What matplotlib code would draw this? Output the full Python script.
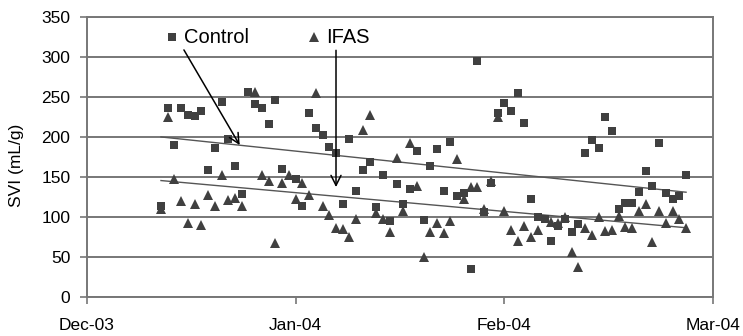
import numpy as np
import matplotlib.pyplot as plt

plt.rcParams['font.family'] = ['Liberation Sans', 'DejaVu Sans']

# days counted from 1 Dec 2003
control_day = [11, 12, 13, 14, 15, 16, 17, 18, 19, 20, 21, 22, 23, 24, 25, 26, 27, 28, 29,
               31, 32, 33, 34, 35, 36, 37, 38, 39, 40, 41, 42, 43, 44, 45, 46, 47, 48, 49, 50,
               51, 52, 53, 54, 55, 56, 57, 58, 59, 60, 61, 62, 63, 64, 65, 66, 67, 68, 69, 70,
               71, 72, 73, 74, 75, 76, 77, 78, 79, 80, 81, 82, 83, 84, 85, 86, 87, 88, 89]
control_svi = [114, 236, 190, 236, 228, 226, 233, 159, 186, 244, 197, 164, 129, 256, 241, 236, 216, 247, 160,
               148, 114, 230, 211, 202, 188, 180, 116, 198, 132, 159, 169, 112, 152, 95, 141, 116, 135, 182, 96,
               164, 185, 132, 194, 126, 130, 35, 295, 106, 142, 230, 243, 233, 255, 218, 122, 100, 97, 70, 89,
               97, 81, 91, 180, 196, 186, 225, 207, 110, 118, 118, 131, 158, 139, 193, 130, 123, 126, 152]

ifas_day = [11, 12, 13, 14, 15, 16, 17, 18, 19, 20, 21, 22, 23, 25, 26, 27, 28, 29, 30,
            31, 32, 33, 34, 35, 36, 37, 38, 39, 40, 41, 42, 43, 44, 45, 46, 47, 48, 49, 50,
            51, 52, 53, 54, 55, 56, 57, 58, 59, 60, 61, 62, 63, 64, 65, 66, 67, 69, 70,
            71, 72, 73, 74, 75, 76, 77, 78, 79, 80, 81, 82, 83, 84, 85, 86, 87, 88, 89]
ifas_svi = [110, 225, 148, 120, 92, 116, 90, 128, 114, 152, 121, 124, 114, 256, 153, 145, 67, 143, 152,
            122, 142, 128, 255, 114, 102, 86, 85, 75, 98, 209, 228, 105, 97, 81, 174, 108, 192, 139, 50,
            81, 92, 80, 95, 173, 123, 138, 138, 110, 145, 225, 108, 84, 70, 89, 75, 84, 94, 93,
            100, 56, 37, 86, 78, 100, 82, 84, 101, 88, 86, 107, 116, 69, 107, 93, 107, 97, 86]

tick_days = [0, 31, 62, 93]
tick_labels = ['Dec-03', 'Jan-04', 'Feb-04', 'Mar-04']

marker_col = '#404040'
grid_col = '#777777'

fig, ax = plt.subplots(figsize=(7.43, 3.36), dpi=100)
fig.subplots_adjust(left=0.117, right=0.9596, bottom=0.116, top=0.949)

ax.plot(control_day, control_svi, 's', color=marker_col, ms=5.4, mew=0, zorder=3)
ax.plot(ifas_day, ifas_svi, '^', color=marker_col, ms=7.2, mew=0, zorder=3)

# linear trend lines
for d, v in [(control_day, control_svi), (ifas_day, ifas_svi)]:
    k, b = np.polyfit(d, v, 1)
    xs = np.array([min(d), max(d)])
    ax.plot(xs, k * xs + b, color='#555555', lw=1.0, zorder=2)

ax.set_xlim(0, 93)
ax.set_ylim(0, 350)
ax.set_xticks(tick_days)
ax.set_xticklabels(tick_labels)
ax.set_yticks(range(0, 351, 50))
ax.yaxis.grid(True, color=grid_col, lw=1.4)
ax.set_axisbelow(True)

for side in ['left', 'bottom', 'right', 'top']:
    ax.spines[side].set_color(grid_col)
    ax.spines[side].set_linewidth(1.4)

ax.tick_params(axis='y', direction='out', length=5, width=1.2, color=grid_col, pad=7, labelsize=12.5)
ax.tick_params(axis='x', direction='out', length=5, width=1.2, color=grid_col, pad=10, labelsize=12.5)
ax.set_ylabel('SVI (mL/g)', fontsize=12.5)
ax.yaxis.set_label_coords(-0.1, 0.47)

# series labels with arrows to the trend lines
ax.plot([12.6], [325], 's', color=marker_col, ms=5.4, mew=0)
ax.text(14.4, 325, 'Control', fontsize=14.5, va='center', ha='left')
ax.annotate('', xy=(22.9, 187), xytext=(14.2, 312),
            arrowprops=dict(arrowstyle='->', color='black', lw=1.1, mutation_scale=18))
ax.plot([33.7], [325], '^', color=marker_col, ms=7.2, mew=0)
ax.text(35.5, 325, 'IFAS', fontsize=14.5, va='center', ha='left')
ax.annotate('', xy=(37.0, 134), xytext=(37.0, 312),
            arrowprops=dict(arrowstyle='->', color='black', lw=1.1, mutation_scale=18))

fig.savefig('out.png', dpi=100)
